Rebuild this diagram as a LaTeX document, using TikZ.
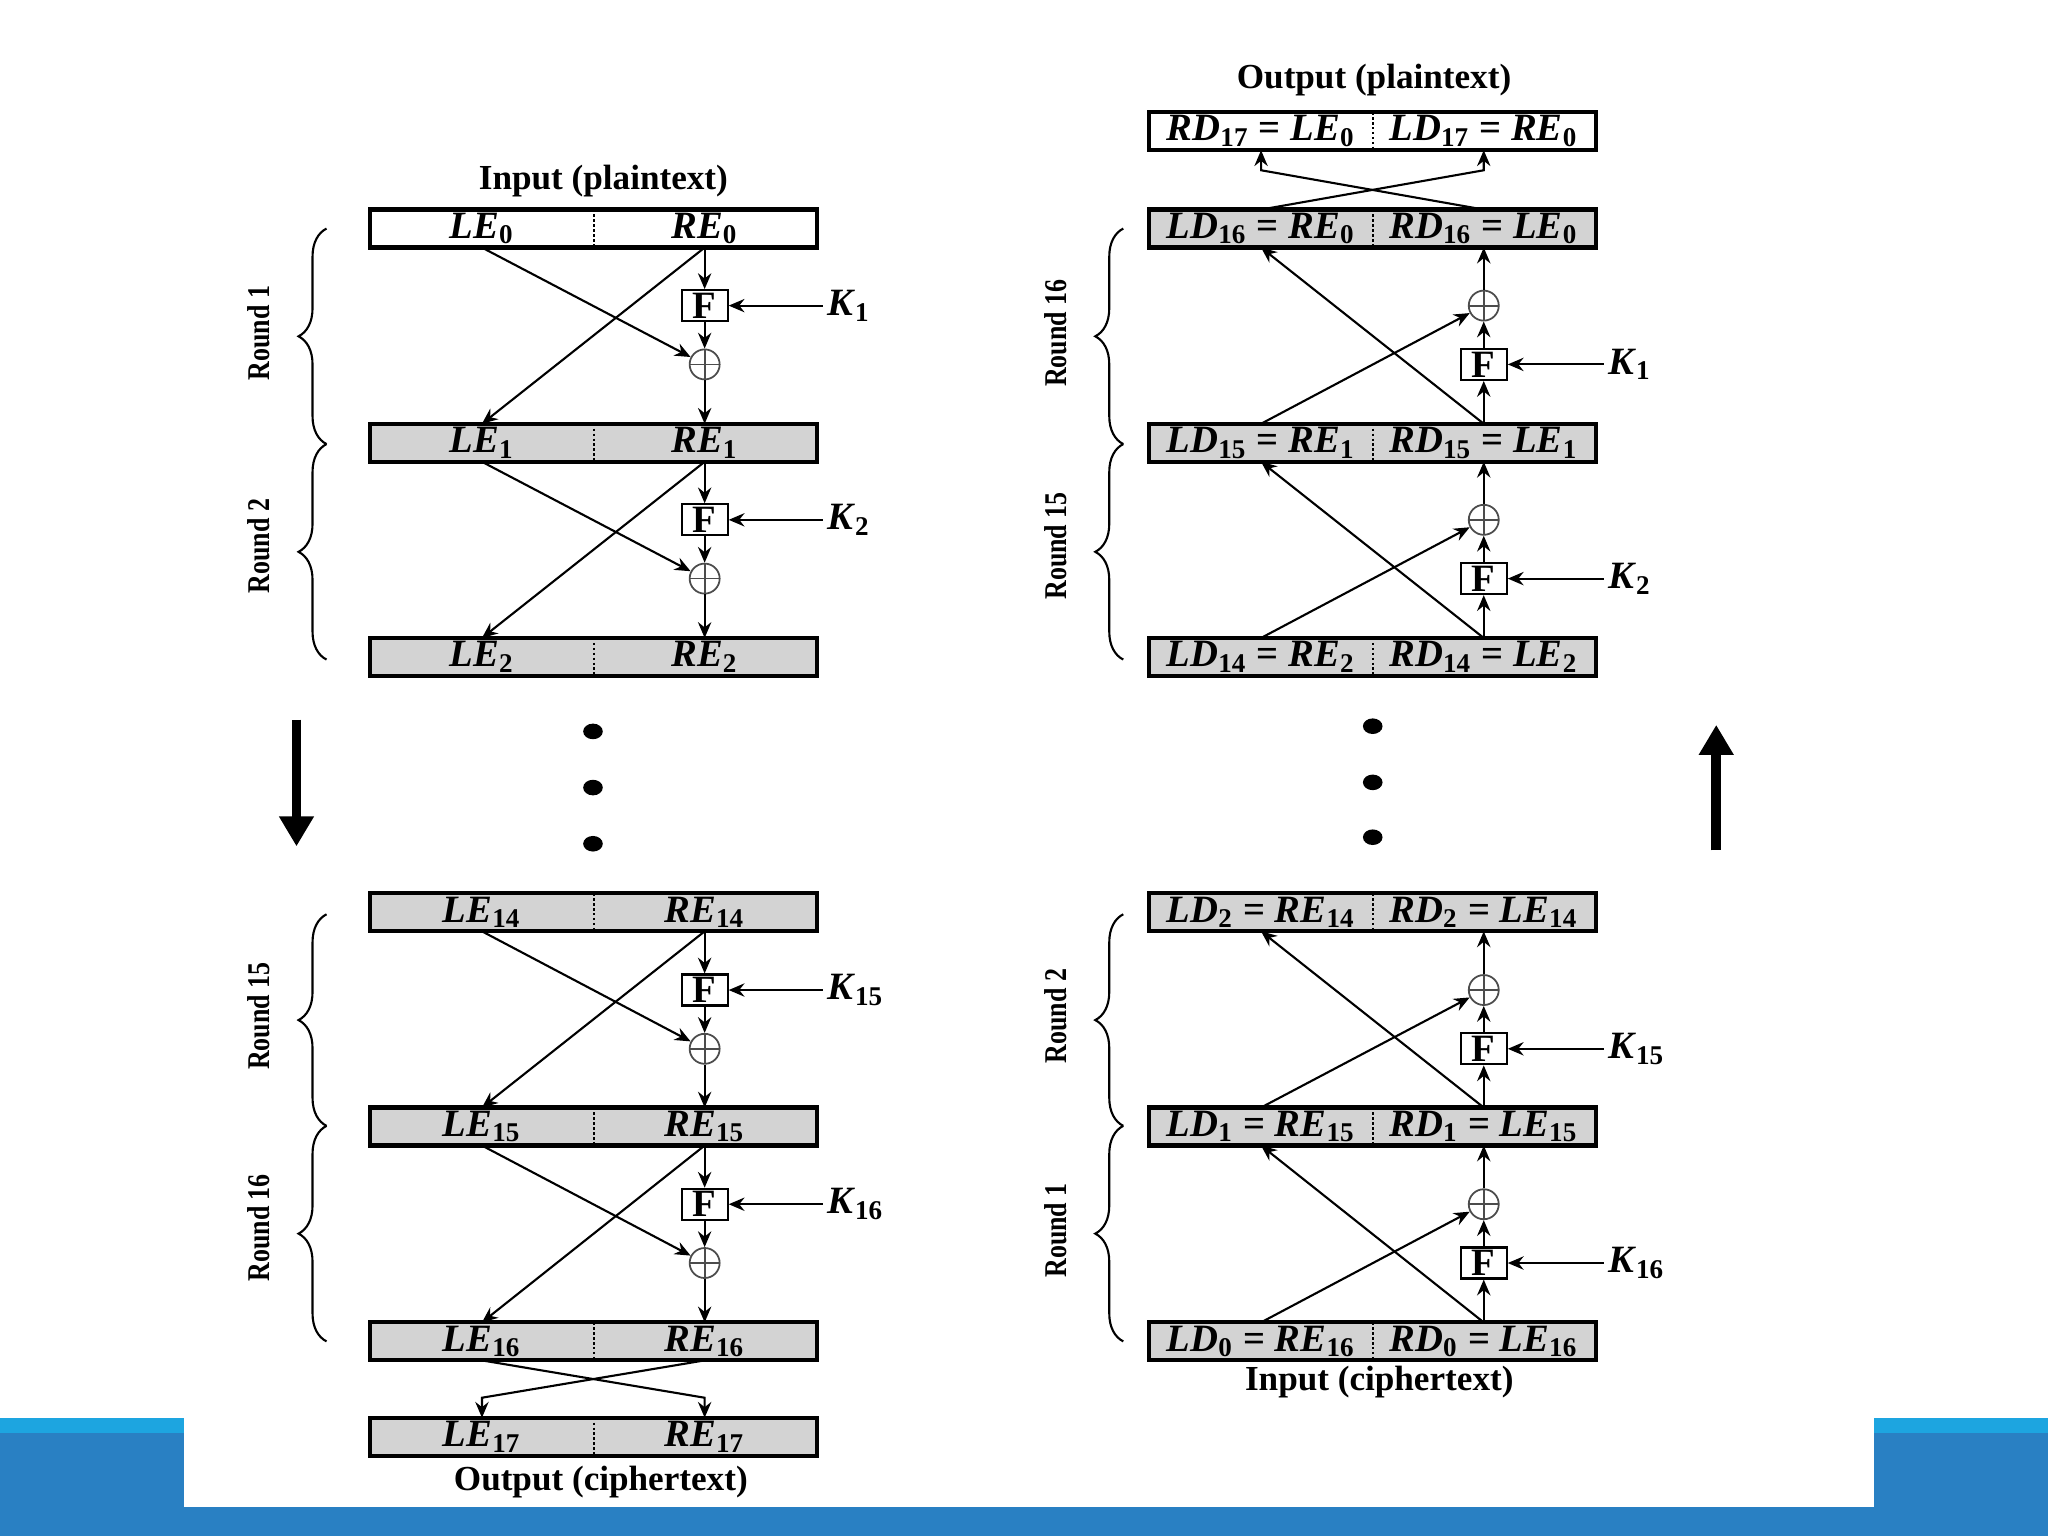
\documentclass[tikz,border=0pt]{standalone}
\usepackage{fontspec}
\setmainfont{Liberation Serif}
\usetikzlibrary{arrows.meta,decorations.pathreplacing}

\definecolor{boxgray}{HTML}{D3D3D3}
\definecolor{barlight}{HTML}{1DA5E0}
\definecolor{bardark}{HTML}{2980C3}

\newcommand{\vn}[2]{\textit{#1}\textsubscript{#2}}
\newcommand{\rowframe}[2]{%
  \draw[line width=1.2pt] (#1.north west) rectangle (#2.south east);
  \draw[dash pattern=on 0.7pt off 0.7pt, line width=0.7pt] (#1.north east) -- (#1.south east);}

\tikzset{
  half/.style={minimum width=2.227cm, minimum height=0.366cm, inner sep=0pt,
    fill=boxgray, font=\bfseries\fontsize{11}{12}\selectfont},
  halfw/.style={half, fill=white},
  fbox/.style={draw, line width=0.6pt, fill=white, minimum width=0.46cm,
    minimum height=0.31cm, inner sep=0pt, font=\bfseries\fontsize{11}{12}\selectfont},
  xorc/.style={circle, draw=black!70, line width=0.5pt, minimum size=0.3cm, inner sep=0pt,
    path picture={\draw[black!70]
      (path picture bounding box.north) -- (path picture bounding box.south)
      (path picture bounding box.west) -- (path picture bounding box.east);}},
  klbl/.style={anchor=west, inner sep=1pt, font=\bfseries\fontsize{11}{12}\selectfont},
  flow/.style={-{Stealth[length=4.5pt,width=3.8pt,inset=1.5pt]}, line width=0.6pt},
  caption/.style={font=\bfseries\fontsize{10}{12}\selectfont},
  rlbl/.style={rotate=90, font=\bfseries\fontsize{9}{10}\selectfont},
  rbrace/.style={decorate, decoration={brace, amplitude=0.28cm}, line width=0.6pt},
  bigarrow/.style={line width=2.8pt, -{Triangle[length=0.3cm,width=0.33cm]}}
}

\begin{document}
\begin{tikzpicture}[x=0.01306cm, y=-0.01306cm]
  \useasboundingbox (0,0) rectangle (1568,1176);
  \fill[white] (0,0) rectangle (1568,1176);

  % slide frame
  \fill[bardark] (0,1086) rectangle (141,1176);
  \fill[bardark] (1435,1086) rectangle (1568,1176);
  \fill[barlight] (0,1086) rectangle (141,1097);
  \fill[barlight] (1435,1086) rectangle (1568,1097);
  \fill[bardark] (0,1154) rectangle (1568,1176);

  % ---------------- encryption ----------------
  \node[caption] (inP) at (462,139) {Input (plaintext)};
  \node[halfw] (LE0) at (369,175) {\vn{LE}{0}};
  \node[halfw] (RE0) at (539.5,175) {\vn{RE}{0}};
  \rowframe{LE0}{RE0}
  \node[half] (LE1) at (369,339) {\vn{LE}{1}};
  \node[half] (RE1) at (539.5,339) {\vn{RE}{1}};
  \rowframe{LE1}{RE1}
  \node[half] (LE2) at (369,503) {\vn{LE}{2}};
  \node[half] (RE2) at (539.5,503) {\vn{RE}{2}};
  \rowframe{LE2}{RE2}
  \node[half] (LE14) at (369,698.5) {\vn{LE}{14}};
  \node[half] (RE14) at (539.5,698.5) {\vn{RE}{14}};
  \rowframe{LE14}{RE14}
  \node[half] (LE15) at (369,862.5) {\vn{LE}{15}};
  \node[half] (RE15) at (539.5,862.5) {\vn{RE}{15}};
  \rowframe{LE15}{RE15}
  \node[half] (LE16) at (369,1027) {\vn{LE}{16}};
  \node[half] (RE16) at (539.5,1027) {\vn{RE}{16}};
  \rowframe{LE16}{RE16}
  \node[half] (LE17) at (369,1100) {\vn{LE}{17}};
  \node[half] (RE17) at (539.5,1100) {\vn{RE}{17}};
  \rowframe{LE17}{RE17}
  \node[caption] (outC) at (460,1135) {Output (ciphertext)};

  % round 1
  \node[fbox] (eF1) at (539.5,234) {F};
  \node[xorc] (eX1) at (539.5,279) {};
  \node[klbl] (eK1) at (630,234) {\vn{K}{1}};
  \draw[flow] (RE0) -- (eF1);
  \draw[flow] (eF1) -- (eX1);
  \draw[flow] (eX1) -- (RE1);
  \draw[flow] (eK1) -- (eF1);
  \draw[flow] (LE0.south) -- (eX1);
  \draw[flow] (RE0.south) -- (LE1.north);
  % round 2
  \node[fbox] (eF2) at (539.5,398) {F};
  \node[xorc] (eX2) at (539.5,443) {};
  \node[klbl] (eK2) at (630,398) {\vn{K}{2}};
  \draw[flow] (RE1) -- (eF2);
  \draw[flow] (eF2) -- (eX2);
  \draw[flow] (eX2) -- (RE2);
  \draw[flow] (eK2) -- (eF2);
  \draw[flow] (LE1.south) -- (eX2);
  \draw[flow] (RE1.south) -- (LE2.north);
  % round 15
  \node[fbox] (eF15) at (539.5,758) {F};
  \node[xorc] (eX15) at (539.5,803) {};
  \node[klbl] (eK15) at (630,758) {\vn{K}{15}};
  \draw[flow] (RE14) -- (eF15);
  \draw[flow] (eF15) -- (eX15);
  \draw[flow] (eX15) -- (RE15);
  \draw[flow] (eK15) -- (eF15);
  \draw[flow] (LE14.south) -- (eX15);
  \draw[flow] (RE14.south) -- (LE15.north);
  % round 16
  \node[fbox] (eF16) at (539.5,922) {F};
  \node[xorc] (eX16) at (539.5,967) {};
  \node[klbl] (eK16) at (630,922) {\vn{K}{16}};
  \draw[flow] (RE15) -- (eF16);
  \draw[flow] (eF16) -- (eX16);
  \draw[flow] (eX16) -- (RE16);
  \draw[flow] (eK16) -- (eF16);
  \draw[flow] (LE15.south) -- (eX16);
  \draw[flow] (RE15.south) -- (LE16.north);

  % final swap
  \coordinate (swapC) at ([yshift=0.2cm]RE17.north);
  \coordinate (swapD) at ([yshift=0.2cm]LE17.north);
  \draw[flow] (LE16.south) -- (swapC) -- (RE17.north);
  \draw[flow] (RE16.south) -- (swapD) -- (LE17.north);

  % braces and round names
  \draw[rbrace] (250,340) -- (250,175);
  \draw[rbrace] (250,505) -- (250,340);
  \draw[rbrace] (250,862) -- (250,700);
  \draw[rbrace] (250,1027) -- (250,862);
  \node[rlbl] (eR1) at (198,255) {\scalebox{0.82}[1]{Round 1}};
  \node[rlbl] (eR2) at (198,418) {\scalebox{0.82}[1]{Round 2}};
  \node[rlbl] (eR15) at (198,778) {\scalebox{0.82}[1]{Round 15}};
  \node[rlbl] (eR16) at (198,940) {\scalebox{0.82}[1]{Round 16}};

  \fill (454,560) ellipse [x radius=0.098cm, y radius=0.078cm];
  \fill (454,603) ellipse [x radius=0.098cm, y radius=0.078cm];
  \fill (454,646) ellipse [x radius=0.098cm, y radius=0.078cm];
  \draw[bigarrow] (227,551) -- (227,648);

  % ---------------- decryption ----------------
  \node[caption] (outP) at (1052,61) {Output (plaintext)};
  \node[halfw] (RD17) at (965.5,100.5) {\vn{RD}{17} = \vn{LE}{0}};
  \node[halfw] (LD17) at (1136,100.5) {\vn{LD}{17} = \vn{RE}{0}};
  \rowframe{RD17}{LD17}
  \node[half] (LD16) at (965.5,175) {\vn{LD}{16} = \vn{RE}{0}};
  \node[half] (RD16) at (1136,175) {\vn{RD}{16} = \vn{LE}{0}};
  \rowframe{LD16}{RD16}
  \node[half] (LD15) at (965.5,339) {\vn{LD}{15} = \vn{RE}{1}};
  \node[half] (RD15) at (1136,339) {\vn{RD}{15} = \vn{LE}{1}};
  \rowframe{LD15}{RD15}
  \node[half] (LD14) at (965.5,503) {\vn{LD}{14} = \vn{RE}{2}};
  \node[half] (RD14) at (1136,503) {\vn{RD}{14} = \vn{LE}{2}};
  \rowframe{LD14}{RD14}
  \node[half] (LD2) at (965.5,698.5) {\vn{LD}{2} = \vn{RE}{14}};
  \node[half] (RD2) at (1136,698.5) {\vn{RD}{2} = \vn{LE}{14}};
  \rowframe{LD2}{RD2}
  \node[half] (LD1) at (965.5,862.5) {\vn{LD}{1} = \vn{RE}{15}};
  \node[half] (RD1) at (1136,862.5) {\vn{RD}{1} = \vn{LE}{15}};
  \rowframe{LD1}{RD1}
  \node[half] (LD0) at (965.5,1027) {\vn{LD}{0} = \vn{RE}{16}};
  \node[half] (RD0) at (1136,1027) {\vn{RD}{0} = \vn{LE}{16}};
  \rowframe{LD0}{RD0}
  \node[caption] (inC) at (1056,1058) {Input (ciphertext)};

  % round 1 (K16)
  \node[fbox] (dF16) at (1136,967) {F};
  \node[xorc] (dX16) at (1136,922) {};
  \node[klbl] (dK16) at (1228,967) {\vn{K}{16}};
  \draw[flow] (RD0) -- (dF16);
  \draw[flow] (dF16) -- (dX16);
  \draw[flow] (dX16) -- (RD1);
  \draw[flow] (dK16) -- (dF16);
  \draw[flow] (LD0.north) -- (dX16);
  \draw[flow] (RD0.north) -- (LD1.south);
  % round 2 (K15)
  \node[fbox] (dF15) at (1136,803) {F};
  \node[xorc] (dX15) at (1136,758) {};
  \node[klbl] (dK15) at (1228,803) {\vn{K}{15}};
  \draw[flow] (RD1) -- (dF15);
  \draw[flow] (dF15) -- (dX15);
  \draw[flow] (dX15) -- (RD2);
  \draw[flow] (dK15) -- (dF15);
  \draw[flow] (LD1.north) -- (dX15);
  \draw[flow] (RD1.north) -- (LD2.south);
  % round 15 (K2)
  \node[fbox] (dF2) at (1136,443) {F};
  \node[xorc] (dX2) at (1136,398) {};
  \node[klbl] (dK2) at (1228,443) {\vn{K}{2}};
  \draw[flow] (RD14) -- (dF2);
  \draw[flow] (dF2) -- (dX2);
  \draw[flow] (dX2) -- (RD15);
  \draw[flow] (dK2) -- (dF2);
  \draw[flow] (LD14.north) -- (dX2);
  \draw[flow] (RD14.north) -- (LD15.south);
  % round 16 (K1)
  \node[fbox] (dF1) at (1136,279) {F};
  \node[xorc] (dX1) at (1136,234) {};
  \node[klbl] (dK1) at (1228,279) {\vn{K}{1}};
  \draw[flow] (RD15) -- (dF1);
  \draw[flow] (dF1) -- (dX1);
  \draw[flow] (dX1) -- (RD16);
  \draw[flow] (dK1) -- (dF1);
  \draw[flow] (LD15.north) -- (dX1);
  \draw[flow] (RD15.north) -- (LD16.south);

  % final swap
  \coordinate (swapA) at ([yshift=-0.2cm]LD17.south);
  \coordinate (swapB) at ([yshift=-0.2cm]RD17.south);
  \draw[flow] (LD16.north) -- (swapA) -- (LD17.south);
  \draw[flow] (RD16.north) -- (swapB) -- (RD17.south);

  % braces and round names
  \draw[rbrace] (860,340) -- (860,175);
  \draw[rbrace] (860,505) -- (860,340);
  \draw[rbrace] (860,862) -- (860,700);
  \draw[rbrace] (860,1027) -- (860,862);
  \node[rlbl] (dR16) at (808,255) {\scalebox{0.82}[1]{Round 16}};
  \node[rlbl] (dR15) at (808,418) {\scalebox{0.82}[1]{Round 15}};
  \node[rlbl] (dR2) at (808,778) {\scalebox{0.82}[1]{Round 2}};
  \node[rlbl] (dR1) at (808,942) {\scalebox{0.82}[1]{Round 1}};

  \fill (1051,556) ellipse [x radius=0.098cm, y radius=0.078cm];
  \fill (1051,599) ellipse [x radius=0.098cm, y radius=0.078cm];
  \fill (1051,641) ellipse [x radius=0.098cm, y radius=0.078cm];
  \draw[bigarrow] (1314,651) -- (1314,555);
\end{tikzpicture}
\end{document}
